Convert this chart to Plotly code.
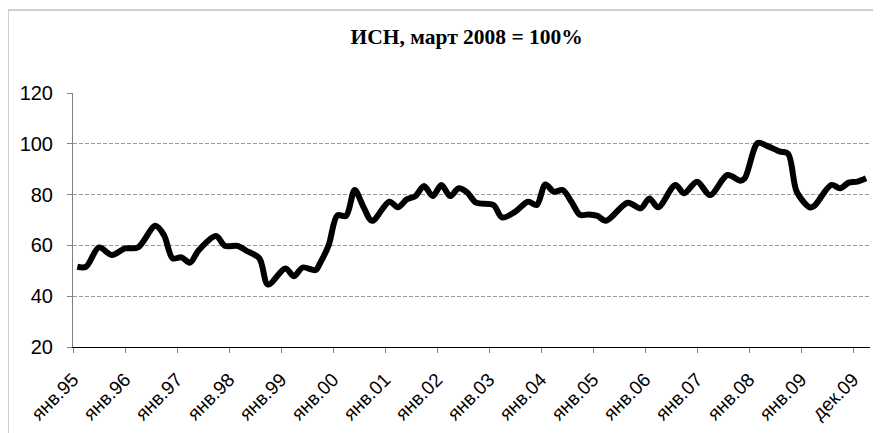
import plotly.graph_objects as go

# months since January 1995 (0 = янв.95) and index values (март 2008 = 100%)
month_idx = [1, 3, 6, 9, 12, 15, 19, 21, 23, 25, 27, 29, 33, 35, 38, 40, 43, 45,
             49, 51, 53, 56, 57, 59, 61, 63, 65, 67, 69, 73, 75, 77, 79, 81, 83,
             85, 87, 89, 91, 93, 97, 99, 102, 105, 107, 109, 111, 113, 115, 117,
             119, 121, 123, 128, 131, 133, 135, 139, 141, 144, 147, 151, 154,
             155, 158, 160, 163, 165, 167, 170, 171, 175, 177, 179, 181, 183]
isn_values = [51.6, 51.6, 59.2, 56.2, 58.8, 59.2, 67.7, 64.0, 54.9, 55.3, 53.2,
              58.1, 63.7, 59.9, 59.8, 57.9, 54.9, 44.6, 50.9, 47.9, 51.3, 50.3,
              53.0, 60.1, 71.8, 71.6, 81.8, 75.2, 69.7, 77.2, 75.0, 78.1, 79.4,
              83.4, 79.4, 83.8, 79.4, 82.5, 80.8, 76.8, 75.9, 71.0, 73.2, 77.2,
              75.9, 84.0, 81.1, 81.8, 77.2, 72.0, 72.2, 71.6, 69.7, 76.8, 74.6,
              78.5, 75.0, 83.8, 80.5, 85.1, 79.8, 87.7, 85.5, 86.4, 100.3, 99.3,
              97.0, 96.1, 81.1, 75.0, 75.5, 83.8, 82.5, 84.7, 85.1, 86.4]

tick_months = [0, 12, 24, 36, 48, 60, 72, 84, 96, 108, 120, 132, 144, 156, 168, 180]
tick_labels = ["янв.95", "янв.96", "янв.97", "янв.98", "янв.99", "янв.00",
               "янв.01", "янв.02", "янв.03", "янв.04", "янв.05", "янв.06",
               "янв.07", "янв.08", "янв.09", "дек.09"]
y_ticks = [20, 40, 60, 80, 100, 120]

OFF = 8  # page body margin
W, H = 881 - OFF, 433 - OFF

fig = go.Figure()
fig.add_trace(go.Scatter(
    x=month_idx, y=isn_values, mode="lines",
    line=dict(color="black", width=6, shape="spline", smoothing=0.9),
    hoverinfo="skip", showlegend=False,
))

fig.update_layout(
    width=W, height=H,
    margin=dict(l=73 - OFF, r=881 - 870, t=93 - OFF, b=H - (347 - OFF)),
    paper_bgcolor="white", plot_bgcolor="white",
    title=dict(text="<b>ИСН, март 2008 = 100%</b>",
               font=dict(family="Liberation Serif", size=21.5, color="black"),
               x=(466.7 - OFF) / W, xanchor="center", xref="container",
               y=1 - (36 - OFF) / H, yanchor="middle", yref="container"),
    font=dict(family="Liberation Sans", color="black"),
    xaxis=dict(range=[0, 183.9], tickmode="array", tickvals=tick_months,
               ticktext=tick_labels, tickangle=-45, ticks="outside", ticklen=5,
               tickcolor="#808080", showline=True, linecolor="black", linewidth=1,
               showgrid=False, zeroline=False, tickfont=dict(size=19),
               ticklabelstandoff=8, automargin=False),
    yaxis=dict(range=[20, 120], tickmode="array", tickvals=y_ticks,
               ticks="outside", ticklen=5, tickcolor="#808080",
               showline=True, linecolor="#808080", linewidth=1,
               showgrid=True, gridcolor="#999999", griddash="4px,2px", gridwidth=1,
               zeroline=False, tickfont=dict(size=20), ticklabelstandoff=10,
               automargin=False),
    shapes=[dict(type="rect", xref="paper", yref="paper",
                 x0=(8 - 73) / 797, x1=1.2, y0=-0.6, y1=(347 - 10) / 254,
                 line=dict(color="#c0c0c0", width=1.5), layer="below")],
)

fig.write_html("out.html")
